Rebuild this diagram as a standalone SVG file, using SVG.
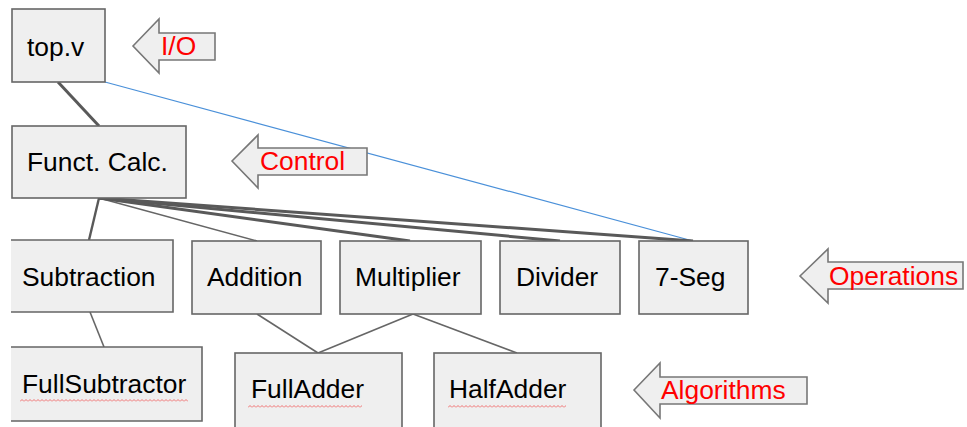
<svg xmlns="http://www.w3.org/2000/svg" width="967" height="427" viewBox="0 0 967 427">
<style>
.box{fill:#efefef;stroke:#666;stroke-width:1.6}
.arr{fill:#efefef;stroke:#777;stroke-width:1.6;stroke-linejoin:miter}
.t{font-family:"Liberation Sans",Arial,sans-serif;font-size:26.4px;fill:#000}
.r{font-family:"Liberation Sans",Arial,sans-serif;font-size:26.4px;fill:#ff0000}
.thick{stroke:#595959;stroke-width:3;fill:none;stroke-linecap:butt}
.thin{stroke:#666;stroke-width:1.6;fill:none}
.blue{stroke:#4a90d9;stroke-width:1.2;fill:none}
</style>
<defs>
<pattern id="zz" x="0" y="0" width="4" height="3" patternUnits="userSpaceOnUse">
<path d="M0,2.5 L2,0.5 L4,2.5" stroke="#f07070" stroke-width="1" fill="none"/>
</pattern>
</defs>
<rect width="967" height="427" fill="#fff"/>
<g id="connectors">
<line class="thick" x1="58" y1="82" x2="99" y2="126"/>
<line class="blue" x1="105" y1="82" x2="693" y2="241"/>
<line class="thick" x1="99" y1="198" x2="89" y2="240" style="stroke-width:2.4"/>
<line class="thin" x1="99" y1="198" x2="257" y2="241"/>
<line class="thick" x1="99" y1="198" x2="410" y2="241"/>
<line class="thick" x1="99" y1="198" x2="560" y2="241"/>
<line class="thick" x1="99" y1="198" x2="693" y2="241"/>
<line class="thin" x1="90" y1="312" x2="104" y2="347"/>
<line class="thin" x1="257" y1="314" x2="318" y2="353"/>
<line class="thin" x1="413" y1="314" x2="318" y2="353"/>
<line class="thin" x1="413" y1="314" x2="517" y2="353"/>
</g>
<g id="top">
<rect class="box" x="12" y="9" width="93" height="73"/>
<text class="t" x="27" y="56">top.v</text>
</g>
<g id="io">
<polygon class="arr" points="133,46 159,19 159,33 215,33 215,60 159,60 159,73"/>
<text class="r" x="161" y="55">I/O</text>
</g>
<g id="funct">
<rect class="box" x="12" y="126" width="174" height="72"/>
<text class="t" x="27" y="171">Funct. Calc.</text>
</g>
<g id="control">
<polygon class="arr" points="232,161 258,135 258,148 367,148 367,175 258,175 258,188"/>
<text class="r" x="260" y="170">Control</text>
</g>
<g id="subtraction">
<rect x="11" y="240" width="162" height="72" fill="#efefef"/>
<path d="M11,240 H173 V312 H11" fill="none" stroke="#666" stroke-width="1.6"/>
<text class="t" x="22" y="286">Subtraction</text>
</g>
<g id="addition">
<rect class="box" x="192" y="241" width="129" height="73"/>
<text class="t" x="207" y="286">Addition</text>
</g>
<g id="multiplier">
<rect class="box" x="340" y="241" width="141" height="73"/>
<text class="t" x="355" y="286">Multiplier</text>
</g>
<g id="divider">
<rect class="box" x="500" y="241" width="120" height="73"/>
<text class="t" x="516" y="286">Divider</text>
</g>
<g id="sevenseg">
<rect class="box" x="639" y="241" width="109" height="73"/>
<text class="t" x="655" y="286">7-Seg</text>
</g>
<g id="operations">
<polygon class="arr" points="800,276 828,249 828,262 963,262 963,289 828,289 828,303"/>
<text class="r" x="829" y="285">Operations</text>
</g>
<g id="fullsubtractor">
<rect x="11" y="347" width="191" height="74" fill="#efefef"/>
<path d="M11,347 H202 V421 H11" fill="none" stroke="#666" stroke-width="1.6"/>
<text class="t" x="22" y="393">FullSubtractor</text>
<rect x="20" y="399" width="168" height="3" fill="url(#zz)"/>
</g>
<g id="fulladder">
<rect class="box" x="235" y="353" width="167" height="80"/>
<text class="t" x="251" y="398">FullAdder</text>
<rect x="248" y="405" width="114" height="3" fill="url(#zz)"/>
</g>
<g id="halfadder">
<rect class="box" x="434" y="353" width="167" height="80"/>
<text class="t" x="449" y="398">HalfAdder</text>
<rect x="448" y="405" width="118" height="3" fill="url(#zz)"/>
</g>
<g id="algorithms">
<polygon class="arr" points="634,390 660,363 660,377 807,377 807,404 660,404 660,418"/>
<text class="r" x="661" y="399">Algorithms</text>
</g>
</svg>
